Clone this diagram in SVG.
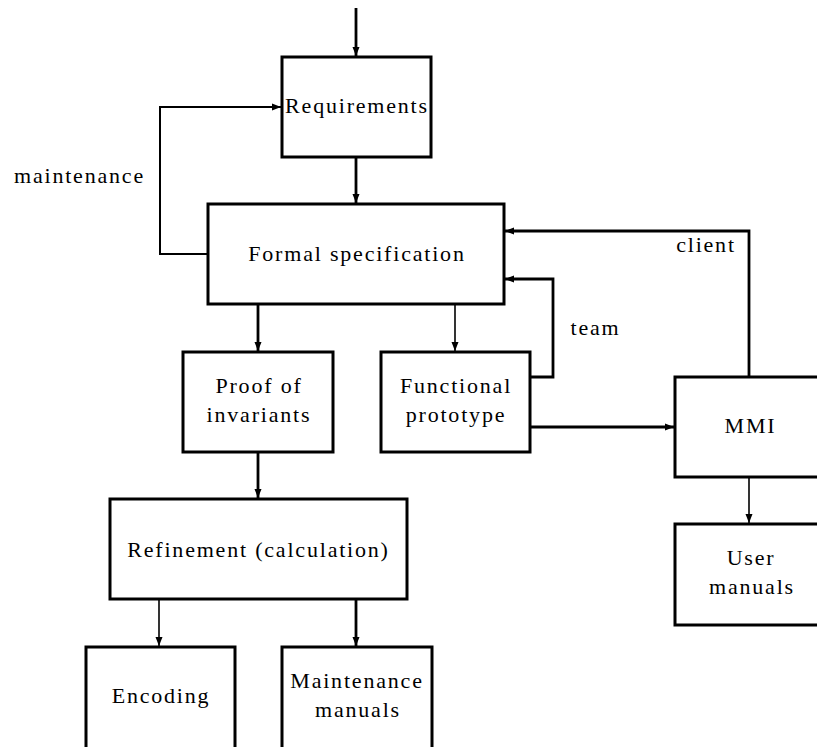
<svg xmlns="http://www.w3.org/2000/svg" width="817" height="747" viewBox="0 0 817 747">
<style>
.box{fill:#fff;stroke:#000;stroke-width:3}
.t{font-family:'Liberation Serif','Times New Roman',serif;font-size:22px;letter-spacing:1.8px;fill:#000;text-anchor:middle}
.c{fill:none;stroke:#000;stroke-width:2.8}
.c1{fill:none;stroke:#000;stroke-width:1.6}
.c2{fill:none;stroke:#000;stroke-width:2}
</style>
<defs>
<marker id="ah" markerWidth="10" markerHeight="8" refX="9" refY="4" orient="auto" markerUnits="userSpaceOnUse">
<path d="M0,0.5 L9,4 L0,7.5 Z" fill="#000"/>
</marker>
</defs>
<rect width="817" height="747" fill="#fff"/>
<g id="connectors">
<path class="c" d="M356,8 V56" marker-end="url(#ah)"/>
<path class="c" d="M356,157 V203" marker-end="url(#ah)"/>
<path class="c2" d="M208,254 H160 V107 H281" marker-end="url(#ah)"/>
<path class="c" d="M258,304 V351" marker-end="url(#ah)"/>
<path class="c1" d="M455,304 V351" marker-end="url(#ah)"/>
<path class="c" d="M749,377 V231 H505" marker-end="url(#ah)"/>
<path class="c" d="M530,377 H553 V279 H505" marker-end="url(#ah)"/>
<path class="c" d="M530,427 H674" marker-end="url(#ah)"/>
<path class="c1" d="M749,477 V523" marker-end="url(#ah)"/>
<path class="c" d="M258,452 V498" marker-end="url(#ah)"/>
<path class="c1" d="M159,599 V646" marker-end="url(#ah)"/>
<path class="c" d="M356,599 V646" marker-end="url(#ah)"/>
</g>
<g id="requirements"><rect class="box" x="282" y="57" width="149" height="100"/><text class="t" x="357" y="113">Requirements</text></g>
<g id="formal"><rect class="box" x="208" y="204" width="296" height="100"/><text class="t" x="357" y="261">Formal specification</text></g>
<g id="proof"><rect class="box" x="183" y="352" width="150" height="100"/><text class="t" x="259" y="393">Proof of</text><text class="t" x="259" y="422">invariants</text></g>
<g id="functional"><rect class="box" x="381" y="352" width="149" height="100"/><text class="t" x="456" y="393">Functional</text><text class="t" x="456" y="422">prototype</text></g>
<g id="mmi"><rect class="box" x="675" y="377" width="150" height="100"/><text class="t" x="750.5" y="433">MMI</text></g>
<g id="usermanuals"><rect class="box" x="675" y="524" width="150" height="101"/><text class="t" x="751" y="565">User</text><text class="t" x="752" y="594">manuals</text></g>
<g id="refinement"><rect class="box" x="110" y="499" width="297" height="100"/><text class="t" x="258.5" y="557">Refinement (calculation)</text></g>
<g id="encoding"><rect class="box" x="86" y="647" width="149" height="102"/><text class="t" x="161" y="703">Encoding</text></g>
<g id="maintmanuals"><rect class="box" x="282" y="647" width="150" height="102"/><text class="t" x="357" y="688">Maintenance</text><text class="t" x="358" y="717">manuals</text></g>
<g id="labels">
<text class="t" x="79.5" y="183">maintenance</text>
<text class="t" x="706" y="252">client</text>
<text class="t" x="595.5" y="335">team</text>
</g>
</svg>
